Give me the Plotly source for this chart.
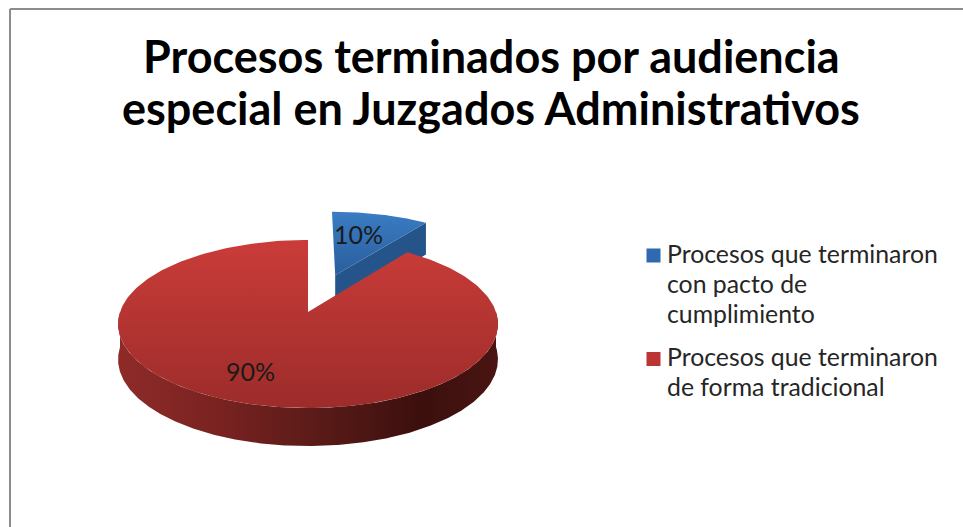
import numpy as np
import plotly.graph_objects as go

categories = ["Procesos que terminaron con pacto de cumplimiento", "Procesos que terminaron de forma tradicional"]
shares = [10, 90]
title_lines = ["Procesos terminados por audiencia", "especial en Juzgados Administrativos"]
legend_lines = [
    ["Procesos que terminaron", "con pacto de", "cumplimiento"],
    ["Procesos que terminaron", "de forma tradicional"],
]

# fake 3d projection of the pie, the axes below run in window pixels
CX, CY = 308, 312
RX, RY = 188, 82.3
PERSP = 1 / 7
DEPTH = 35
EXPLODE = 0.5


def project(u, v, drop=False):
    w = 1 + PERSP * v
    x = CX + RX * u / w
    y = CY - RY * v / w
    if drop:
        y = y + DEPTH / (1 + 0.08 * v)
    return x, y


def slice_outline(start, stop, offset=0.0):
    # angles in degrees, clockwise from 12 o'clock
    t = np.radians(np.linspace(start, stop, 240))
    mid = np.radians((start + stop) / 2)
    return offset * np.sin(mid) + np.sin(t), offset * np.cos(mid) + np.cos(t), (offset * np.sin(mid), offset * np.cos(mid))


blue_sweep = shares[0] / sum(shares) * 360

fig = go.Figure()

# blue slice walls and top
bu, bv, bc = slice_outline(0, blue_sweep, EXPLODE)
rim_x, rim_y = project(bu[-1], bv[-1])
rim_xb, rim_yb = project(bu[-1], bv[-1], True)
apex_x, apex_y = project(*bc)
apex_xb, apex_yb = project(*bc, True)
fig.add_trace(go.Scatter(
    x=[apex_x, rim_x, rim_xb, apex_xb, apex_x], y=[apex_y, rim_y, rim_yb, apex_yb, apex_y],
    mode="lines", fill="toself", line={"width": 0}, fillcolor="#25548A", hoverinfo="skip", showlegend=False
))
top_x, top_y = project(np.r_[bc[0], bu], np.r_[bc[1], bv])
fig.add_trace(go.Scatter(
    x=top_x, y=top_y, mode="lines", fill="toself", line={"width": 0},
    fillgradient={"type": "vertical", "colorscale": [[0, "#2A5E9C"], [1, "#3A7CC4"]]},
    name=categories[0], hoverinfo="name", showlegend=False
))

# red slice, side wall first, only the part that faces the viewer
t = np.radians(np.linspace(90, 270, 400))
wall_u, wall_v = np.sin(t), np.cos(t)
up_x, up_y = project(wall_u, wall_v)
down_x, down_y = project(wall_u, wall_v, True)
fig.add_trace(go.Scatter(
    x=np.r_[up_x, down_x[::-1]], y=np.r_[up_y, down_y[::-1]],
    mode="lines", fill="toself", line={"width": 0},
    fillgradient={"type": "horizontal", "colorscale": [
        [0, "#8E2B29"], [0.25, "#7A2321"], [0.55, "#571A17"], [0.8, "#3B0F0D"], [1, "#4A1512"]
    ]},
    hoverinfo="skip", showlegend=False
))
ru, rv, rc = slice_outline(blue_sweep, 360)
red_x, red_y = project(np.r_[0, ru], np.r_[0, rv])
fig.add_trace(go.Scatter(
    x=red_x, y=red_y, mode="lines", fill="toself", line={"width": 0},
    fillgradient={"type": "vertical", "colorscale": [[0, "#9C2C2A"], [1, "#CA3C39"]]},
    name=categories[1], hoverinfo="name", showlegend=False
))

# data labels
label_font = {"family": "Lato", "size": 25, "color": "#1A1A1A"}
fig.add_annotation(x=358, y=234, text=f"{shares[0]}%", showarrow=False, font=label_font)
fig.add_annotation(x=250, y=371, text=f"{shares[1]}%", showarrow=False, font=label_font)

# legend keys and text
key_y = [255.5, 359]
fig.add_trace(go.Scatter(
    x=[653.5, 653.5], y=key_y, mode="markers",
    marker={"symbol": "square", "size": 14, "color": ["#2F69B0", "#BB3532"]},
    hoverinfo="skip", showlegend=False
))
legend_font = {"family": "Lato", "size": 24.8, "color": "#262626"}
for lines, first_y in zip(legend_lines, [253.5, 356.5]):
    for i, line in enumerate(lines):
        fig.add_annotation(x=665, y=first_y + i * 30, text=line, showarrow=False, xanchor="left", font=legend_font)

# title
title_font = {"family": "Lato", "size": 45, "color": "#000000", "weight": "bold"}
for y, line in zip([56, 108], title_lines):
    fig.add_annotation(x=491, y=y, text=line, showarrow=False, font=title_font)

# chart frame, open on the right and bottom like the crop
fig.add_shape(type="line", x0=10, x1=963, y0=9, y1=9, line={"color": "#8C8C8C", "width": 2})
fig.add_shape(type="line", x0=10, x1=10, y0=9, y1=527, line={"color": "#8C8C8C", "width": 2})

fig.update_layout(
    width=963, height=527,
    margin={"l": 0, "r": 0, "t": 0, "b": 0},
    paper_bgcolor="white", plot_bgcolor="white",
    xaxis={"range": [0, 963], "visible": False, "fixedrange": True},
    yaxis={"range": [527, 0], "visible": False, "fixedrange": True},
    showlegend=False
)

fig.write_html("out.html", config={"displayModeBar": False},
               post_script="document.body.style.margin='0';document.body.style.overflow='hidden';")
